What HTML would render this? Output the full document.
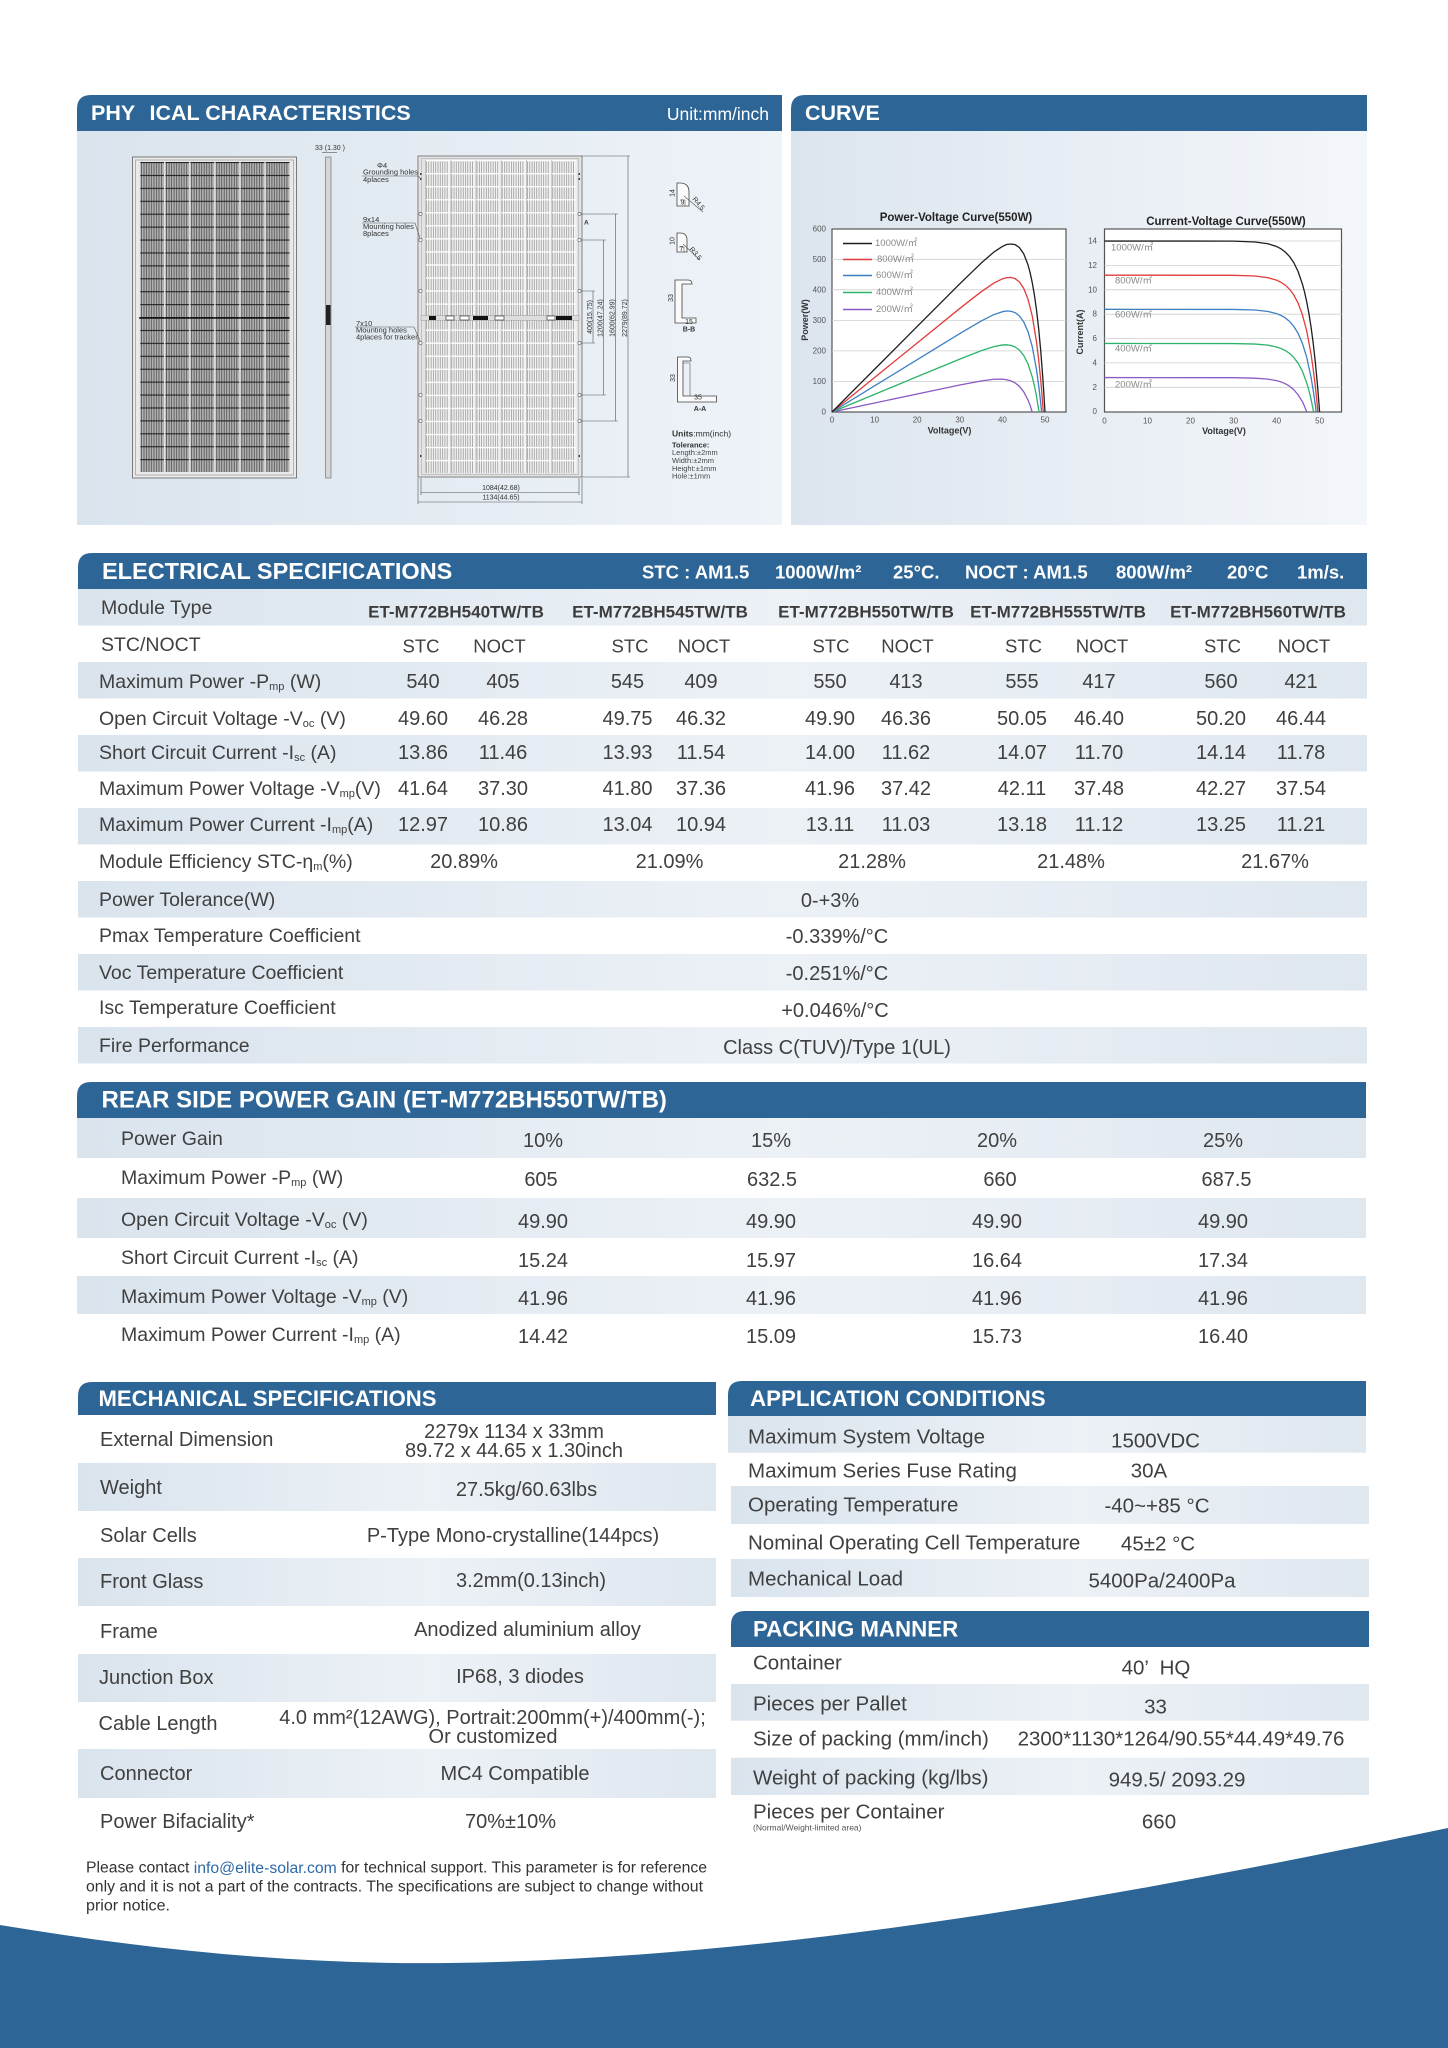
<!DOCTYPE html>
<html><head><meta charset="utf-8">
<style>
html,body{margin:0;padding:0;background:#fff}
svg{display:block}
text{font-family:"Liberation Sans","Noto Sans CJK SC",sans-serif;dominant-baseline:central}
.t{font-weight:bold;fill:#fff}
.l{font-size:19.5px;fill:#404040}
.v{font-size:20px;fill:#404040;text-anchor:middle}
.sn{font-size:18.5px;fill:#404040;text-anchor:middle}
.m{font-size:17px;font-weight:bold;fill:#3c3c3c;text-anchor:middle}
.s{font-size:11px}
.l2{font-size:20px;fill:#404040}
.v2{font-size:20px;fill:#404040;text-anchor:middle}
.l3{font-size:20.5px;fill:#404040}
.v3{font-size:20.5px;fill:#404040;text-anchor:middle}
.d{font-size:7.5px;fill:#333}
.dm{font-size:7px;fill:#333;text-anchor:middle}
.tk{font-size:8px;fill:#555}
.ax{font-size:9px;font-weight:bold;fill:#333;text-anchor:middle}
.ct{font-size:11.5px;font-weight:bold;fill:#222;text-anchor:middle}
.lg{font-size:9.5px;fill:#8a8a8a}
polyline.c{vector-effect:non-scaling-stroke;fill:none;stroke-width:1.3;stroke-linejoin:round}
.dl{stroke:#555;stroke-width:0.6;fill:none}
</style></head><body>
<svg width="1448" height="2048" viewBox="0 0 1448 2048" xmlns="http://www.w3.org/2000/svg">
<defs>
<linearGradient id="gp" x1="0" x2="1" y1="0" y2="0"><stop offset="0" stop-color="#dae4ed"/><stop offset="1" stop-color="#eef3f8"/></linearGradient>
<linearGradient id="gc" x1="0" x2="1" y1="0" y2="0"><stop offset="0" stop-color="#dce5ee"/><stop offset="1" stop-color="#f3f6fa"/></linearGradient>
<linearGradient id="gr" x1="0" x2="1" y1="0" y2="0"><stop offset="0" stop-color="#dae4ed"/><stop offset="0.55" stop-color="#ecf1f6"/><stop offset="1" stop-color="#dfe7ef"/></linearGradient>
<pattern id="pf" patternUnits="userSpaceOnUse" x="139" y="162" width="25.083" height="12.917">
<rect width="25.083" height="12.917" fill="#b4b4b4"/>
<path d="M2.5 0V13M5 0V13M7.5 0V13M10 0V13M12.5 0V13M15 0V13M17.5 0V13M20 0V13M22.5 0V13" stroke="#4a4a4a" stroke-width="0.8"/>
<rect width="25.083" height="1.1" fill="#222"/>
<rect width="1.3" height="12.917" fill="#e6e6e6"/>
</pattern>
<pattern id="pb" patternUnits="userSpaceOnUse" x="425" y="160" width="25.25" height="13.04">
<rect width="25.25" height="13.04" fill="#f2f2f2"/>
<path d="M1.5 0V14M3.8 0V14M6.1 0V14M8.4 0V14M10.7 0V14M13 0V14M15.3 0V14M17.6 0V14M19.9 0V14M22.2 0V14" stroke="#7d7d7d" stroke-width="0.6"/>
<rect width="25.25" height="1.3" fill="#fff"/>
<rect width="0.8" height="13.04" fill="#bbb"/>
</pattern>
</defs>

<!-- PHYSICAL -->
<rect x="77" y="131" width="705" height="394" fill="url(#gp)"/>
<path d="M77,131 V109 Q77,95 91,95 H782 V131 Z" fill="#2d6596"/>
<text class="t" x="91" y="113" font-size="21.5">PHY</text>
<text class="t" x="149.5" y="113" font-size="21.5">ICAL CHARACTERISTICS</text>
<text x="769" y="114" font-size="17.5" fill="#fff" text-anchor="end">Unit:mm/inch</text>

<!-- front view -->
<rect x="132.5" y="157" width="164" height="321" fill="#e9e9e9" stroke="#7a7a7a" stroke-width="1"/>
<rect x="135.5" y="160" width="158" height="315" fill="none" stroke="#9a9a9a" stroke-width="0.7"/>
<rect x="139" y="162" width="150.5" height="310" fill="url(#pf)"/>
<line x1="139" y1="318" x2="289.5" y2="318" stroke="#111" stroke-width="1.6"/>

<!-- side view -->
<text class="dm" x="330" y="148.5" font-size="7.5">33 (1.30 )</text>
<line x1="322" y1="152.5" x2="337" y2="152.5" class="dl"/>
<rect x="325.5" y="157" width="5.5" height="321" fill="#d5d5d5" stroke="#777" stroke-width="0.7"/>
<rect x="326" y="305" width="4.5" height="20" fill="#222"/>

<!-- back view -->
<rect x="418" y="156" width="164" height="321" fill="#e4e4e4" stroke="#777" stroke-width="0.9"/>
<rect x="421.5" y="158.5" width="157" height="316" fill="none" stroke="#aaa" stroke-width="0.6"/>
<rect x="425" y="160" width="151.5" height="313" fill="url(#pb)"/>
<rect x="421" y="315.5" width="158" height="5" fill="#ddd" stroke="#888" stroke-width="0.4"/>
<rect x="429" y="316" width="7" height="4" fill="#111"/>
<rect x="446" y="316" width="8" height="4" fill="#fff" stroke="#222" stroke-width="0.6"/>
<rect x="460" y="316" width="9" height="4" fill="#fff" stroke="#222" stroke-width="0.6"/>
<rect x="473" y="316" width="15" height="4" fill="#111"/>
<rect x="495" y="316" width="9" height="4" fill="#fff" stroke="#222" stroke-width="0.6"/>
<rect x="547" y="316" width="8" height="4" fill="#fff" stroke="#222" stroke-width="0.6"/>
<rect x="556" y="316" width="16" height="4" fill="#111"/>
<g fill="#fff" stroke="#555" stroke-width="0.6">
<circle cx="420.5" cy="214" r="1.6"/><circle cx="420.5" cy="240" r="1.6"/><circle cx="420.5" cy="291" r="1.6"/><circle cx="420.5" cy="343" r="1.6"/><circle cx="420.5" cy="395" r="1.6"/><circle cx="420.5" cy="421" r="1.6"/>
<circle cx="579.5" cy="214" r="1.6"/><circle cx="579.5" cy="240" r="1.6"/><circle cx="579.5" cy="291" r="1.6"/><circle cx="579.5" cy="343" r="1.6"/><circle cx="579.5" cy="395" r="1.6"/><circle cx="579.5" cy="421" r="1.6"/>
</g>
<g fill="#444"><rect x="420" y="173" width="1.5" height="2"/><rect x="420" y="178" width="1.5" height="2"/><rect x="578.5" y="173" width="1.5" height="2"/><rect x="578.5" y="178" width="1.5" height="2"/><rect x="420" y="455" width="1.5" height="2"/><rect x="578.5" y="455" width="1.5" height="2"/></g>
<!-- dims right -->
<path class="dl" d="M581 291H595M581 343H595M593 291V343M581 240H606M581 395H606M603.5 240V395M581 214H618M581 421H618M615.5 214V421M582 156H630M582 477H630M628 156V477"/>
<text class="dm" transform="translate(590.5 317) rotate(-90)">400(15.75)</text>
<text class="dm" transform="translate(601 318) rotate(-90)">1200(47.24)</text>
<text class="dm" transform="translate(613 318) rotate(-90)">1600(62.99)</text>
<text class="dm" transform="translate(625.5 318) rotate(-90)">2279(89.72)</text>
<text x="584" y="223" font-size="6.5" font-weight="bold" fill="#333">A</text>
<!-- dims bottom -->
<path class="dl" d="M421 478V495M579 478V495M418 478V504M582 478V504M421 492.5H579M418 502H582"/>
<text class="dm" x="501" y="488.5">1084(42.68)</text>
<text class="dm" x="501" y="498">1134(44.65)</text>
<!-- callouts -->
<text class="d" x="377" y="165.5">Φ4</text>
<text class="d" x="363" y="172">Grounding holes</text>
<text class="d" x="363" y="179.5">4places</text>
<path class="dl" d="M362 176H418L421 179"/>
<text class="d" x="363" y="219.5">9x14</text>
<text class="d" x="363" y="226.5">Mounting holes</text>
<text class="d" x="363" y="233.5">8places</text>
<path class="dl" d="M362 223H415L420 238"/>
<text class="d" x="356" y="323.5">7x10</text>
<text class="d" x="356" y="330">Mounting holes</text>
<text class="d" x="356" y="337">4places for tracker</text>
<path class="dl" d="M355 327H414L420 341"/>
<!-- profiles -->
<g fill="#fafafa" stroke="#444" stroke-width="0.8">
<path d="M677,183 L677,206 L689,206 L689,192 Q689,183 680,183 Z"/>
<path d="M677,233 L677,252 L687,252 L687,240 Q687,233 680,233 Z"/>
<path d="M675,280 H688 Q692,280 692,284 H682 V318 H696 V323 H675 Z"/>
<path d="M677.5,357 H688 Q691,357 691,361 H683 V396 H716.5 V402 H677.5 Z"/>
</g>
<path class="dl" d="M680 200H685V206M679 247H684V252M684 196L703 212M683 244L700 260M683 363H690V396"/>
<text class="dm" transform="translate(673 193) rotate(-90)" font-size="6">14</text>
<text class="dm" x="682.5" y="203" font-size="6">9</text>
<text class="dm" transform="translate(698 204) rotate(50)" font-size="6">R4.5</text>
<text class="dm" transform="translate(673 241) rotate(-90)" font-size="6">10</text>
<text class="dm" x="681.5" y="249.5" font-size="6">7</text>
<text class="dm" transform="translate(695 254) rotate(50)" font-size="6">R3.5</text>
<text class="dm" transform="translate(671.5 298) rotate(-90)" font-size="6.5">33</text>
<text class="dm" x="689" y="322.5" font-size="6.5">15</text>
<text class="dm" x="689" y="330" font-size="6.5" font-weight="bold">B-B</text>
<text class="dm" transform="translate(673.5 378) rotate(-90)" font-size="6.5">33</text>
<text class="dm" x="698" y="398" font-size="6.5">35</text>
<text class="dm" x="700" y="409.5" font-size="6.5" font-weight="bold">A-A</text>
<text x="672" y="433.5" font-size="8.5" fill="#333"><tspan font-weight="bold">Units</tspan>:mm(inch)</text>
<text x="672" y="445" font-size="7.5" fill="#333" font-weight="bold">Tolerance:</text>
<text x="672" y="452.5" font-size="7.5" fill="#444">Length:±2mm</text>
<text x="672" y="460.5" font-size="7.5" fill="#444">Width:±2mm</text>
<text x="672" y="468.5" font-size="7.5" fill="#444">Height:±1mm</text>
<text x="672" y="476" font-size="7.5" fill="#444">Hole:±1mm</text>

<!-- CURVE -->
<rect x="791" y="131" width="576" height="394" fill="url(#gc)"/>
<path d="M791,131 V109 Q791,95 805,95 H1367 V131 Z" fill="#2d6596"/>
<text class="t" x="805" y="113" font-size="21.5">CURVE</text>

<!-- PV chart -->
<text class="ct" x="956" y="218">Power-Voltage Curve(550W)</text>
<rect x="832" y="229" width="234" height="183" fill="#fff" stroke="#555" stroke-width="1.2"/>
<path d="M832 381.5H1066M832 350.9H1066M832 320.4H1066M832 289.8H1066M832 259.3H1066" stroke="#cfcfcf" stroke-width="0.8"/>
<g class="tk" text-anchor="end">
<text x="826" y="229">600</text><text x="826" y="259.3">500</text><text x="826" y="289.8">400</text><text x="826" y="320.4">300</text><text x="826" y="350.9">200</text><text x="826" y="381.5">100</text><text x="826" y="412">0</text>
</g>
<g class="tk" text-anchor="middle">
<text x="832" y="420">0</text><text x="874.6" y="420">10</text><text x="917.2" y="420">20</text><text x="959.8" y="420">30</text><text x="1002.4" y="420">40</text><text x="1045" y="420">50</text>
</g>
<text class="ax" x="949.5" y="430.5">Voltage(V)</text>
<text class="ax" transform="translate(805 320) rotate(-90)">Power(W)</text>
<g stroke-width="1.5">
<line x1="843" y1="243.5" x2="872" y2="243.5" stroke="#1e1e1e"/>
<line x1="843" y1="259.5" x2="872" y2="259.5" stroke="#e23b3b"/>
<line x1="843" y1="275.5" x2="872" y2="275.5" stroke="#3d7fc3"/>
<line x1="843" y1="292.5" x2="872" y2="292.5" stroke="#2cb36a"/>
<line x1="843" y1="309.5" x2="872" y2="309.5" stroke="#8b59c6"/>
</g>
<text class="lg" x="875" y="243.5">1000W/㎡</text>
<text class="lg" x="877" y="259.5">800W/㎡</text>
<text class="lg" x="876" y="275.5">600W/㎡</text>
<text class="lg" x="876" y="292.5">400W/㎡</text>
<text class="lg" x="876" y="309.5">200W/㎡</text>
<g transform="translate(832 412) scale(4.26 -0.3055)">
<polyline class="c" stroke="#8b59c6" points="0,0 10,29.5 20,59 30,88.3 35,101.6 38,107.1 40,107.5 41,105.7 42,101.9 43,95 44,83.7 45,66.1 46,39.6 46.5,21.7 47,0"/>
<polyline class="c" stroke="#2cb36a" points="0,0 10,57.8 20,115.7 30,173.2 35,200.6 38,214.1 40,219.5 41,219.9 42,218 43,212.7 44,202.5 45,185.1 46,157.5 47,115.3 47.5,86.7 48,52 48.6,0"/>
<polyline class="c" stroke="#3d7fc3" points="0,0 10,85.7 20,171.4 30,256.7 35,297.6 38,318.8 40,328.3 41,330.5 42,329.8 43,325.1 44,314.2 45,295 46,263.3 47,214.2 48,139.4 48.6,77.8 49,28.2 49.2,0"/>
<polyline class="c" stroke="#e23b3b" points="0,0 10,113 20,226 30,339 35,393.4 38,422 40,435.9 41,439.9 42,440.6 43,436.4 44,425.5 45,404.8 46,370 47,314.7 48,230.3 48.5,173.1 49,103.6 49.3,54.5 49.6,0"/>
<polyline class="c" stroke="#1e1e1e" points="0,0 10,140 20,280 30,419.6 35,487.2 38,523.5 40,542 41,548.2 42,550 43,548 44,538 45,518 46,482 46.5,456.4 47,424 47.5,384.2 48,335 48.5,274.3 49,200 49.5,109.5 50,0"/>
</g>

<!-- IV chart -->
<text class="ct" x="1226" y="222">Current-Voltage Curve(550W)</text>
<rect x="1104.5" y="229" width="237" height="183" fill="#fff" stroke="#555" stroke-width="1.2"/>
<path d="M1104.5 387.3H1341.5M1104.5 362.9H1341.5M1104.5 338.6H1341.5M1104.5 314.2H1341.5M1104.5 289.8H1341.5M1104.5 265.4H1341.5M1104.5 241H1341.5" stroke="#cfcfcf" stroke-width="0.8"/>
<g class="tk" text-anchor="end">
<text x="1097" y="411.7">0</text><text x="1097" y="387.3">2</text><text x="1097" y="362.9">4</text><text x="1097" y="338.6">6</text><text x="1097" y="314.2">8</text><text x="1097" y="289.8">10</text><text x="1097" y="265.4">12</text><text x="1097" y="241">14</text>
</g>
<g class="tk" text-anchor="middle">
<text x="1104.5" y="421">0</text><text x="1147.5" y="421">10</text><text x="1190.5" y="421">20</text><text x="1233.6" y="421">30</text><text x="1276.6" y="421">40</text><text x="1319.6" y="421">50</text>
</g>
<text class="ax" x="1224" y="431">Voltage(V)</text>
<text class="ax" transform="translate(1080 332) rotate(-90)">Current(A)</text>
<text class="lg" x="1111" y="248">1000W/㎡</text>
<text class="lg" x="1115" y="281">800W/㎡</text>
<text class="lg" x="1115" y="315">600W/㎡</text>
<text class="lg" x="1115" y="349">400W/㎡</text>
<text class="lg" x="1115" y="385">200W/㎡</text>
<g transform="translate(1104.5 411.7) scale(4.302 -12.19)">
<polyline class="c" stroke="#8b59c6" points="0,2.8 30,2.79 35,2.75 38,2.67 40,2.55 41,2.45 42,2.3 43,2.1 44,1.8 45,1.39 46,0.82 46.5,0.44 47,0"/>
<polyline class="c" stroke="#2cb36a" points="0,5.6 30,5.59 35,5.55 38,5.46 40,5.31 41,5.19 42,5.02 43,4.79 44,4.45 45,3.98 46,3.32 47,2.37 47.5,1.77 48,1.05 48.6,0"/>
<polyline class="c" stroke="#3d7fc3" points="0,8.4 30,8.39 35,8.34 38,8.22 40,8.05 41,7.9 42,7.7 43,7.41 44,7 45,6.43 46,5.61 47,4.47 48,2.85 48.6,1.57 49,0.56 49.2,0"/>
<polyline class="c" stroke="#e23b3b" points="0,11.2 30,11.19 35,11.13 38,10.99 40,10.79 41,10.62 42,10.39 43,10.05 44,9.58 45,8.91 46,7.96 47,6.63 48,4.75 48.5,3.53 49,2.09 49.3,1.1 49.6,0"/>
<polyline class="c" stroke="#1e1e1e" points="0,14 20,14 30,13.99 35,13.92 38,13.78 40,13.55 41,13.37 42,13.1 43,12.74 44,12.23 45,11.5 46,10.47 46.5,9.82 47,9.02 47.5,8.09 48,6.97 48.5,5.66 49,4.08 49.5,2.21 50,0"/>
</g>

<!-- ELECTRICAL -->
<path d="M78,589 V567 Q78,553 92,553 H1367 V589 Z" fill="#2d6596"/>
<text class="t" x="102" y="571" font-size="23.5">ELECTRICAL SPECIFICATIONS</text>
<g class="t" font-size="18.5">
<text x="642" y="572">STC : AM1.5</text>
<text x="775" y="572">1000W/m²</text>
<text x="893" y="572">25°C.</text>
<text x="965" y="572">NOCT : AM1.5</text>
<text x="1116" y="572">800W/m²</text>
<text x="1227" y="572">20°C</text>
<text x="1297" y="572">1m/s.</text>
</g>
<g fill="url(#gr)">
<rect x="78" y="589" width="1289" height="36.5"/>
<rect x="78" y="662" width="1289" height="36.5"/>
<rect x="78" y="735" width="1289" height="36.5"/>
<rect x="78" y="808" width="1289" height="36.5"/>
<rect x="78" y="881" width="1289" height="36.5"/>
<rect x="78" y="954" width="1289" height="36.5"/>
<rect x="78" y="1027" width="1289" height="36.5"/>
</g>
<text class="l" x="101" y="608">Module Type</text>
<text class="m" x="456" y="612">ET-M772BH540TW/TB</text>
<text class="m" x="660" y="612">ET-M772BH545TW/TB</text>
<text class="m" x="866" y="612">ET-M772BH550TW/TB</text>
<text class="m" x="1058" y="612">ET-M772BH555TW/TB</text>
<text class="m" x="1258" y="612">ET-M772BH560TW/TB</text>
<text class="l" x="101" y="645">STC/NOCT</text>
<text class="sn" x="421" y="646">STC</text><text class="sn" x="499.5" y="646">NOCT</text>
<text class="sn" x="630" y="646">STC</text><text class="sn" x="704" y="646">NOCT</text>
<text class="sn" x="831" y="646">STC</text><text class="sn" x="907.5" y="646">NOCT</text>
<text class="sn" x="1023.5" y="646">STC</text><text class="sn" x="1102" y="646">NOCT</text>
<text class="sn" x="1222.5" y="646">STC</text><text class="sn" x="1304" y="646">NOCT</text>

<text class="l" x="99" y="682">Maximum Power -P<tspan class="s" dy="5">mp</tspan><tspan dy="-5"> (W)</tspan></text>
<text class="v" x="423" y="682">540</text><text class="v" x="503" y="682">405</text>
<text class="v" x="627.5" y="682">545</text><text class="v" x="701" y="682">409</text>
<text class="v" x="830" y="682">550</text><text class="v" x="906" y="682">413</text>
<text class="v" x="1022" y="682">555</text><text class="v" x="1099" y="682">417</text>
<text class="v" x="1221" y="682">560</text><text class="v" x="1301" y="682">421</text>

<text class="l" x="99" y="719">Open Circuit Voltage -V<tspan class="s" dy="5">oc</tspan><tspan dy="-5"> (V)</tspan></text>
<text class="v" x="423" y="719">49.60</text><text class="v" x="503" y="719">46.28</text>
<text class="v" x="627.5" y="719">49.75</text><text class="v" x="701" y="719">46.32</text>
<text class="v" x="830" y="719">49.90</text><text class="v" x="906" y="719">46.36</text>
<text class="v" x="1022" y="719">50.05</text><text class="v" x="1099" y="719">46.40</text>
<text class="v" x="1221" y="719">50.20</text><text class="v" x="1301" y="719">46.44</text>

<text class="l" x="99" y="753">Short Circuit Current -I<tspan class="s" dy="5">sc</tspan><tspan dy="-5"> (A)</tspan></text>
<text class="v" x="423" y="753">13.86</text><text class="v" x="503" y="753">11.46</text>
<text class="v" x="627.5" y="753">13.93</text><text class="v" x="701" y="753">11.54</text>
<text class="v" x="830" y="753">14.00</text><text class="v" x="906" y="753">11.62</text>
<text class="v" x="1022" y="753">14.07</text><text class="v" x="1099" y="753">11.70</text>
<text class="v" x="1221" y="753">14.14</text><text class="v" x="1301" y="753">11.78</text>

<text class="l" x="99" y="789">Maximum Power Voltage -V<tspan class="s" dy="5">mp</tspan><tspan dy="-5">(V)</tspan></text>
<text class="v" x="423" y="789">41.64</text><text class="v" x="503" y="789">37.30</text>
<text class="v" x="627.5" y="789">41.80</text><text class="v" x="701" y="789">37.36</text>
<text class="v" x="830" y="789">41.96</text><text class="v" x="906" y="789">37.42</text>
<text class="v" x="1022" y="789">42.11</text><text class="v" x="1099" y="789">37.48</text>
<text class="v" x="1221" y="789">42.27</text><text class="v" x="1301" y="789">37.54</text>

<text class="l" x="99" y="825">Maximum Power Current -I<tspan class="s" dy="5">mp</tspan><tspan dy="-5">(A)</tspan></text>
<text class="v" x="423" y="825">12.97</text><text class="v" x="503" y="825">10.86</text>
<text class="v" x="627.5" y="825">13.04</text><text class="v" x="701" y="825">10.94</text>
<text class="v" x="830" y="825">13.11</text><text class="v" x="906" y="825">11.03</text>
<text class="v" x="1022" y="825">13.18</text><text class="v" x="1099" y="825">11.12</text>
<text class="v" x="1221" y="825">13.25</text><text class="v" x="1301" y="825">11.21</text>

<text class="l" x="99" y="862">Module Efficiency STC-η<tspan class="s" dy="5">m</tspan><tspan dy="-5">(%)</tspan></text>
<text class="v" x="464" y="862">20.89%</text>
<text class="v" x="669.5" y="862">21.09%</text>
<text class="v" x="872" y="862">21.28%</text>
<text class="v" x="1071" y="862">21.48%</text>
<text class="v" x="1275" y="862">21.67%</text>

<text class="l" x="99" y="900">Power Tolerance(W)</text>
<text class="v" x="830" y="901">0-+3%</text>
<text class="l" x="99" y="936">Pmax Temperature Coefficient</text>
<text class="v" x="837" y="937">-0.339%/°C</text>
<text class="l" x="99" y="973">Voc Temperature Coefficient</text>
<text class="v" x="837" y="974">-0.251%/°C</text>
<text class="l" x="99" y="1008">Isc Temperature Coefficient</text>
<text class="v" x="835" y="1011">+0.046%/°C</text>
<text class="l" x="99" y="1046">Fire Performance</text>
<text class="v" x="837" y="1048">Class C(TUV)/Type 1(UL)</text>

<!-- REAR SIDE -->
<path d="M77,1118 V1096 Q77,1082 91,1082 H1366 V1118 Z" fill="#2d6596"/>
<text class="t" x="101.5" y="1100" font-size="24">REAR SIDE POWER GAIN (ET-M772BH550TW/TB)</text>
<g fill="url(#gr)">
<rect x="77" y="1118" width="1289" height="40"/>
<rect x="77" y="1198" width="1289" height="40"/>
<rect x="77" y="1276" width="1289" height="38"/>
</g>
<text class="l" x="121" y="1139">Power Gain</text>
<text class="v" x="543" y="1141">10%</text><text class="v" x="771" y="1141">15%</text><text class="v" x="997" y="1141">20%</text><text class="v" x="1223" y="1141">25%</text>
<text class="l" x="121" y="1178">Maximum Power -P<tspan class="s" dy="5">mp</tspan><tspan dy="-5"> (W)</tspan></text>
<text class="v" x="541" y="1180">605</text><text class="v" x="772" y="1180">632.5</text><text class="v" x="1000" y="1180">660</text><text class="v" x="1226.5" y="1180">687.5</text>
<text class="l" x="121" y="1220">Open Circuit Voltage -V<tspan class="s" dy="5">oc</tspan><tspan dy="-5"> (V)</tspan></text>
<text class="v" x="543" y="1222">49.90</text><text class="v" x="771" y="1222">49.90</text><text class="v" x="997" y="1222">49.90</text><text class="v" x="1223" y="1222">49.90</text>
<text class="l" x="121" y="1258">Short Circuit Current -I<tspan class="s" dy="5">sc</tspan><tspan dy="-5"> (A)</tspan></text>
<text class="v" x="543" y="1261">15.24</text><text class="v" x="771" y="1261">15.97</text><text class="v" x="997" y="1261">16.64</text><text class="v" x="1223" y="1261">17.34</text>
<text class="l" x="121" y="1297">Maximum Power Voltage -V<tspan class="s" dy="5">mp</tspan><tspan dy="-5"> (V)</tspan></text>
<text class="v" x="543" y="1299">41.96</text><text class="v" x="771" y="1299">41.96</text><text class="v" x="997" y="1299">41.96</text><text class="v" x="1223" y="1299">41.96</text>
<text class="l" x="121" y="1335">Maximum Power Current -I<tspan class="s" dy="5">mp</tspan><tspan dy="-5"> (A)</tspan></text>
<text class="v" x="543" y="1337">14.42</text><text class="v" x="771" y="1337">15.09</text><text class="v" x="997" y="1337">15.73</text><text class="v" x="1223" y="1337">16.40</text>

<!-- WAVE -->
<path d="M0 1925 C150 1950 300 1965 450 1963 C800 1958 1150 1890 1448 1828 V2048 H0 Z" fill="#2d6596"/>

<!-- MECHANICAL -->
<path d="M78,1415 V1396 Q78,1382 92,1382 H716 V1415 Z" fill="#2d6596"/>
<text class="t" x="98.5" y="1398.5" font-size="22.1">MECHANICAL SPECIFICATIONS</text>
<g fill="url(#gr)">
<rect x="78" y="1463" width="638" height="48"/>
<rect x="78" y="1558" width="638" height="48"/>
<rect x="78" y="1654" width="638" height="48"/>
<rect x="78" y="1749" width="638" height="49"/>
</g>
<text class="l2" x="100" y="1440">External Dimension</text>
<text class="v2" x="514" y="1432">2279x 1134 x 33mm</text>
<text class="v2" x="514" y="1451">89.72 x 44.65 x 1.30inch</text>
<text class="l2" x="100" y="1488">Weight</text>
<text class="v2" x="526.5" y="1490">27.5kg/60.63lbs</text>
<text class="l2" x="100" y="1536">Solar Cells</text>
<text class="v2" x="513" y="1536">P-Type Mono-crystalline(144pcs)</text>
<text class="l2" x="100" y="1582">Front Glass</text>
<text class="v2" x="531" y="1581">3.2mm(0.13inch)</text>
<text class="l2" x="100" y="1632">Frame</text>
<text class="v2" x="527.5" y="1630">Anodized aluminium alloy</text>
<text class="l2" x="99" y="1678">Junction Box</text>
<text class="v2" x="520" y="1677">IP68, 3 diodes</text>
<text class="l2" x="98.5" y="1724">Cable Length</text>
<text class="v2" x="492.5" y="1718">4.0 mm²(12AWG), Portrait:200mm(+)/400mm(-);</text>
<text class="v2" x="493" y="1737">Or customized</text>
<text class="l2" x="100" y="1774">Connector</text>
<text class="v2" x="515" y="1774">MC4 Compatible</text>
<text class="l2" x="100" y="1822">Power Bifaciality*</text>
<text class="v2" x="510.5" y="1822">70%±10%</text>

<text x="86" y="1868" font-size="15.5" fill="#333" textLength="621" lengthAdjust="spacingAndGlyphs">Please contact <tspan fill="#2e6aa8">info@elite-solar.com</tspan> for technical support. This parameter is for reference</text>
<text x="86" y="1887" font-size="15.5" fill="#333" textLength="617" lengthAdjust="spacingAndGlyphs">only and it is not a part of the contracts. The specifications are subject to change without</text>
<text x="86" y="1906" font-size="15.5" fill="#333" textLength="84" lengthAdjust="spacingAndGlyphs">prior notice.</text>

<!-- APPLICATION -->
<path d="M728,1416 V1395 Q728,1381 742,1381 H1366 V1416 Z" fill="#2d6596"/>
<text class="t" x="750" y="1398.5" font-size="22.3">APPLICATION CONDITIONS</text>
<g fill="url(#gr)">
<rect x="728" y="1416" width="638" height="36.7"/>
<rect x="731" y="1486" width="638" height="38"/>
<rect x="731" y="1559" width="638" height="38"/>
</g>
<text class="l3" x="748" y="1437">Maximum System Voltage</text>
<text class="v3" x="1155.5" y="1441">1500VDC</text>
<text class="l3" x="748" y="1471">Maximum Series Fuse Rating</text>
<text class="v3" x="1149" y="1471">30A</text>
<text class="l3" x="748" y="1505">Operating Temperature</text>
<text class="v3" x="1157" y="1506">-40~+85 °C</text>
<text class="l3" x="748" y="1543">Nominal Operating Cell Temperature</text>
<text class="v3" x="1158" y="1544">45±2 °C</text>
<text class="l3" x="748" y="1579">Mechanical Load</text>
<text class="v3" x="1162" y="1581">5400Pa/2400Pa</text>

<!-- PACKING -->
<path d="M731,1647 V1625 Q731,1611 745,1611 H1369 V1647 Z" fill="#2d6596"/>
<text class="t" x="753" y="1629" font-size="22.3">PACKING MANNER</text>
<g fill="url(#gr)">
<rect x="731" y="1684" width="638" height="36.7"/>
<rect x="731" y="1757.7" width="638" height="37.3"/>
</g>
<text class="l3" x="753" y="1663">Container</text>
<text class="v3" x="1156" y="1668" style="white-space:pre">40’  HQ</text>
<text class="l3" x="753" y="1704">Pieces per Pallet</text>
<text class="v3" x="1155.5" y="1707">33</text>
<text class="l3" x="753" y="1739">Size of packing (mm/inch)</text>
<text class="v3" x="1181" y="1739">2300*1130*1264/90.55*44.49*49.76</text>
<text class="l3" x="753" y="1778">Weight of packing (kg/lbs)</text>
<text class="v3" x="1177" y="1780">949.5/ 2093.29</text>
<text class="l3" x="753" y="1812">Pieces per Container</text>
<text x="753" y="1827.5" font-size="8.5" fill="#555">(Normal/Weight-limited area)</text>
<text class="v3" x="1159" y="1822">660</text>
</svg>
</body></html>
